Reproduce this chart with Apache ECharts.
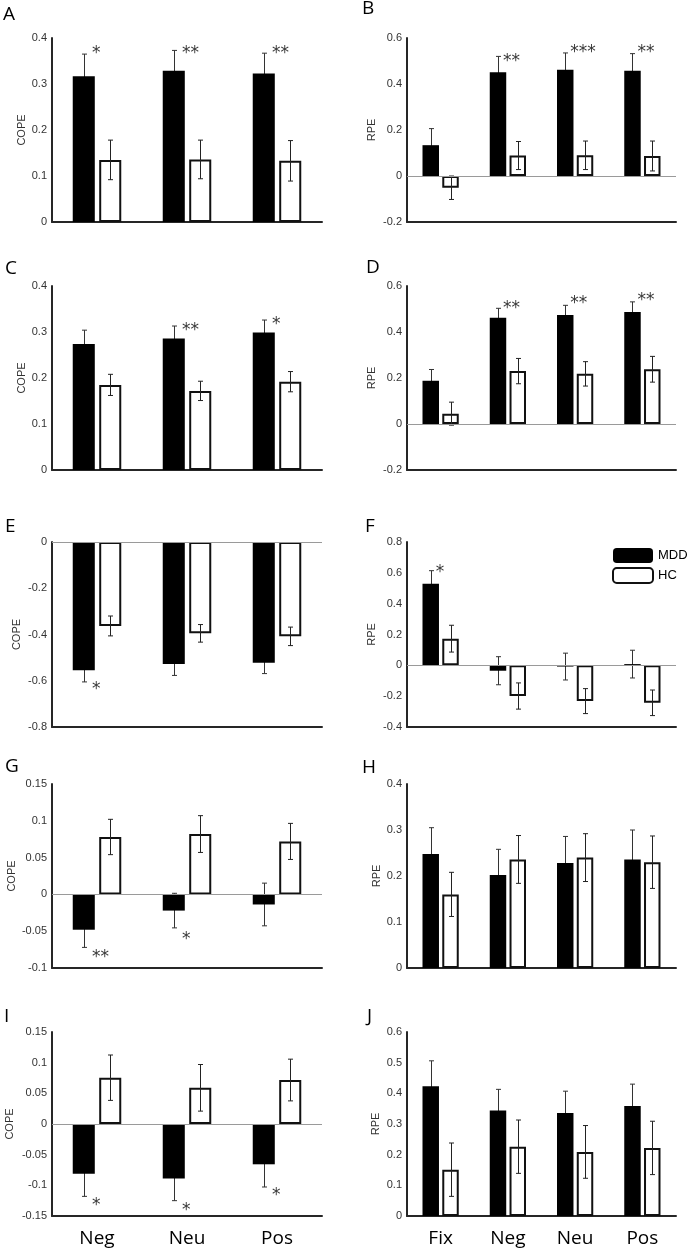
<!DOCTYPE html>
<html>
<head>
<meta charset="utf-8">
<script src="https://cdn.jsdelivr.net/npm/echarts@6/dist/echarts.min.js"></script>
<style>
html,body{margin:0;padding:0;background:#fff;}
#chart{width:688px;height:1250px;}
</style>
</head>
<body>
<div id="chart"></div>
<script>
// ---------- DATA ----------
const COPE_CATS = ['Neg', 'Neu', 'Pos'];
const RPE_CATS = ['Fix', 'Neg', 'Neu', 'Pos'];
const SERIES_NAMES = ['MDD', 'HC'];

// axis ranges [min, max, interval]
const A_axis = [0, 0.4, 0.1];
const B_axis = [-0.2, 0.6, 0.2];
const C_axis = [0, 0.4, 0.1];
const D_axis = [-0.2, 0.6, 0.2];
const E_axis = [-0.8, 0, 0.2];
const F_axis = [-0.4, 0.8, 0.2];
const G_axis = [-0.1, 0.15, 0.05];
const H_axis = [0, 0.4, 0.1];
const I_axis = [-0.15, 0.15, 0.05];
const J_axis = [0, 0.6, 0.1];

const A_mdd = [0.317, 0.329, 0.323];
const A_mddErr = [0.048, 0.044, 0.044];
const A_hc = [0.135, 0.136, 0.133];
const A_hcErr = [0.043, 0.042, 0.044];
const A_starText = ['*', '**', '**'];
const A_starY = [0.378, 0.378, 0.378];

const B_mdd = [0.134, 0.451, 0.462, 0.458];
const B_mddErr = [0.072, 0.069, 0.073, 0.074];
const B_hc = [-0.051, 0.089, 0.090, 0.087];
const B_hcErr = [0.051, 0.061, 0.062, 0.065];
const B_starText = ['', '**', '***', '**'];
const B_starY = [null, 0.52, 0.557, 0.557];

const C_mdd = [0.274, 0.286, 0.299];
const C_mddErr = [0.030, 0.027, 0.027];
const C_hc = [0.185, 0.172, 0.192];
const C_hcErr = [0.023, 0.021, 0.022];
const C_starText = ['', '**', '*'];
const C_starY = [null, 0.315, 0.328];

const D_mdd = [0.188, 0.462, 0.474, 0.487];
const D_mddErr = [0.049, 0.041, 0.042, 0.044];
const D_hc = [0.045, 0.230, 0.218, 0.238];
const D_hcErr = [0.050, 0.055, 0.053, 0.056];
const D_starText = ['', '**', '**', '**'];
const D_starY = [null, 0.525, 0.547, 0.558];

const E_mdd = [-0.555, -0.528, -0.522];
const E_mddErr = [0.050, 0.049, 0.047];
const E_hc = [-0.363, -0.395, -0.408];
const E_hcErr = [0.043, 0.038, 0.040];
const E_starText = ['*', '', ''];
const E_starY = [-0.617, null, null];

const F_mdd = [0.529, -0.035, -0.008, 0.008];
const F_mddErr = [0.085, 0.091, 0.087, 0.090];
const F_hc = [0.173, -0.199, -0.232, -0.243];
const F_hcErr = [0.087, 0.085, 0.081, 0.083];
const F_starText = ['*', '', '', ''];
const F_starY = [0.632, null, null, null];

const G_mdd = [-0.048, -0.022, -0.0137];
const G_mddErr = [0.024, 0.0235, 0.029];
const G_hc = [0.078, 0.082, 0.072];
const G_hcErr = [0.024, 0.025, 0.0245];
const G_starText = ['**', '*', ''];
const G_starY = [-0.079, -0.054, null];

const H_mdd = [0.248, 0.202, 0.228, 0.236];
const H_mddErr = [0.057, 0.056, 0.058, 0.064];
const H_hc = [0.160, 0.236, 0.240, 0.230];
const H_hcErr = [0.048, 0.052, 0.052, 0.057];
const H_starText = ['', '', '', ''];
const H_starY = [null, null, null, null];

const I_mdd = [-0.081, -0.089, -0.0657];
const I_mddErr = [0.037, 0.036, 0.037];
const I_hc = [0.0755, 0.059, 0.0717];
const I_hcErr = [0.037, 0.038, 0.034];
const I_starText = ['*', '*', '*'];
const I_starY = [-0.125, -0.133, -0.108];

const J_mdd = [0.423, 0.344, 0.336, 0.359];
const J_mddErr = [0.083, 0.069, 0.071, 0.071];
const J_hc = [0.151, 0.226, 0.209, 0.222];
const J_hcErr = [0.087, 0.087, 0.086, 0.087];
const J_starText = ['', '', '', ''];
const J_starY = [null, null, null, null];

const panels = [
  {id:'A', cats:COPE_CATS, yName:'COPE', axis:A_axis, mdd:A_mdd, mddErr:A_mddErr, hc:A_hc, hcErr:A_hcErr, starText:A_starText, starY:A_starY},
  {id:'B', cats:RPE_CATS, yName:'RPE', axis:B_axis, mdd:B_mdd, mddErr:B_mddErr, hc:B_hc, hcErr:B_hcErr, starText:B_starText, starY:B_starY},
  {id:'C', cats:COPE_CATS, yName:'COPE', axis:C_axis, mdd:C_mdd, mddErr:C_mddErr, hc:C_hc, hcErr:C_hcErr, starText:C_starText, starY:C_starY},
  {id:'D', cats:RPE_CATS, yName:'RPE', axis:D_axis, mdd:D_mdd, mddErr:D_mddErr, hc:D_hc, hcErr:D_hcErr, starText:D_starText, starY:D_starY},
  {id:'E', cats:COPE_CATS, yName:'COPE', axis:E_axis, mdd:E_mdd, mddErr:E_mddErr, hc:E_hc, hcErr:E_hcErr, starText:E_starText, starY:E_starY},
  {id:'F', cats:RPE_CATS, yName:'RPE', axis:F_axis, mdd:F_mdd, mddErr:F_mddErr, hc:F_hc, hcErr:F_hcErr, starText:F_starText, starY:F_starY},
  {id:'G', cats:COPE_CATS, yName:'COPE', axis:G_axis, mdd:G_mdd, mddErr:G_mddErr, hc:G_hc, hcErr:G_hcErr, starText:G_starText, starY:G_starY},
  {id:'H', cats:RPE_CATS, yName:'RPE', axis:H_axis, mdd:H_mdd, mddErr:H_mddErr, hc:H_hc, hcErr:H_hcErr, starText:H_starText, starY:H_starY},
  {id:'I', cats:COPE_CATS, yName:'COPE', axis:I_axis, mdd:I_mdd, mddErr:I_mddErr, hc:I_hc, hcErr:I_hcErr, starText:I_starText, starY:I_starY},
  {id:'J', cats:RPE_CATS, yName:'RPE', axis:J_axis, mdd:J_mdd, mddErr:J_mddErr, hc:J_hc, hcErr:J_hcErr, starText:J_starText, starY:J_starY}
];

// ---------- LAYOUT ----------
const COL_LEFT = [52, 407];
const COL_WIDTH = [270, 269];
const ROW_TOP = [38, 286, 542, 784, 1032];
const ROW_H = [184, 184, 185, 184, 184];
const NAME_GAP = {A:24, B:30, C:24, D:30, E:30, F:30, G:35, H:25, I:37, J:26};
const LETTER_POS = {A:[3,17], B:[362,11], C:[5,271], D:[366,270], E:[5,529], F:[365,529], G:[5,769], H:[362,770], I:[4,1019], J:[367,1019]};
const BAR_W = 0.245;
const BAR_GAP = 0.2;
const AXIS_COLOR = '#262626';
const TICK_FONT = 'Liberation Sans, Arial, sans-serif';
const STAR_FONT = 'DejaVu Sans, sans-serif';
const LABEL_FONT = 'Open Sans, Noto Sans, sans-serif';

const grid = [], xAxis = [], yAxis = [], series = [], graphic = [];

function errRender(side, color) {
  return function (params, api) {
    const x = api.value(0), m = api.value(1), e = api.value(2);
    const c = api.coord([x, m]);
    const hi = api.coord([x, m + e]);
    const lo = api.coord([x, m - e]);
    const band = api.size([1, 0])[0];
    const bw = band * BAR_W;
    const cx = Math.round(c[0] + side * (bw + bw * BAR_GAP) / 2) + 0.5;
    const cap = 2.5;
    const st = {stroke: color, lineWidth: 1};
    return {type: 'group', children: [
      {type: 'line', shape: {x1: cx, y1: hi[1], x2: cx, y2: lo[1]}, style: st},
      {type: 'line', shape: {x1: cx - cap, y1: hi[1], x2: cx + cap, y2: hi[1]}, style: st},
      {type: 'line', shape: {x1: cx - cap, y1: lo[1], x2: cx + cap, y2: lo[1]}, style: st}
    ]};
  };
}

panels.forEach(function (p, i) {
  const col = i % 2, row = Math.floor(i / 2);
  grid.push({left: COL_LEFT[col], top: ROW_TOP[row], width: COL_WIDTH[col], height: ROW_H[row], containLabel: false});
  const showCat = row === 4;
  xAxis.push({
    type: 'category', gridIndex: i, data: p.cats,
    axisLine: {onZero: false, lineStyle: {color: AXIS_COLOR, width: 2}},
    axisTick: {show: false},
    axisLabel: {show: showCat, fontFamily: LABEL_FONT, fontSize: 19, color: '#000', margin: 13}
  });
  yAxis.push({
    type: 'value', gridIndex: i, min: p.axis[0], max: p.axis[1], interval: p.axis[2],
    name: p.yName, nameLocation: 'middle', nameGap: NAME_GAP[p.id],
    nameTextStyle: {fontFamily: TICK_FONT, fontSize: 11, color: '#333'},
    axisLine: {show: true, lineStyle: {color: AXIS_COLOR, width: 2}},
    axisTick: {show: false},
    splitLine: {show: false},
    axisLabel: {fontFamily: TICK_FONT, fontSize: 11, color: '#333', margin: 5,
      formatter: function (v) { return String(+v.toFixed(2)); }}
  });
  // zero line
  if (p.axis[0] < 0) {
    series.push({
      type: 'line', xAxisIndex: i, yAxisIndex: i, data: [], z: 0, silent: true,
      markLine: {silent: true, symbol: ['none', 'none'], label: {show: false},
        lineStyle: {color: '#9a9a9a', width: 1, type: 'solid'}, data: [{yAxis: 0}]}
    });
  }
  // MDD error bars (behind black bars)
  series.push({
    type: 'custom', xAxisIndex: i, yAxisIndex: i, z: 1, silent: true,
    renderItem: errRender(-1, '#333'),
    encode: {x: 0, y: 1},
    data: p.mdd.map(function (v, k) { return [k, v, p.mddErr[k]]; })
  });
  series.push({
    name: 'MDD', type: 'bar', xAxisIndex: i, yAxisIndex: i, data: p.mdd,
    barWidth: (BAR_W * 100) + '%', barGap: (BAR_GAP * 100) + '%', z: 2,
    itemStyle: {color: '#000', borderColor: '#000', borderWidth: 0}
  });
  series.push({
    name: 'HC', type: 'bar', xAxisIndex: i, yAxisIndex: i, data: p.hc,
    barWidth: (BAR_W * 100) + '%', barGap: (BAR_GAP * 100) + '%', z: 2,
    itemStyle: {color: '#fff', borderColor: '#111', borderWidth: 2}
  });
  // HC error bars (over white bars)
  series.push({
    type: 'custom', xAxisIndex: i, yAxisIndex: i, z: 3, silent: true,
    renderItem: errRender(1, '#222'),
    encode: {x: 0, y: 1},
    data: p.hc.map(function (v, k) { return [k, v, p.hcErr[k]]; })
  });
  const stars = [];
  p.starText.forEach(function (t, k) {
    if (t && p.starY[k] !== null) stars.push({name: t, value: [k, p.starY[k]]});
  });
  if (stars.length) {
    series.push({
      type: 'scatter', xAxisIndex: i, yAxisIndex: i, z: 4, silent: true,
      symbolSize: 2, itemStyle: {color: 'rgba(0,0,0,0)'},
      label: {show: true, position: 'inside', align: 'left', verticalAlign: 'middle',
        offset: [-5, 5], formatter: function (q) { return q.name; },
        fontFamily: STAR_FONT, fontSize: 17, color: '#000'},
      data: stars
    });
  }
  graphic.push({
    type: 'text', left: LETTER_POS[p.id][0], top: LETTER_POS[p.id][1] - 12,
    style: {text: p.id, fontFamily: LABEL_FONT, fontSize: 19, fill: '#000'}
  });
});

const chart = echarts.init(document.getElementById('chart'), null, {renderer: 'canvas'});
chart.setOption({
  animation: false,
  backgroundColor: '#fff',
  grid: grid, xAxis: xAxis, yAxis: yAxis, series: series, graphic: graphic,
  legend: {
    data: SERIES_NAMES, orient: 'vertical', left: 612, top: 548, padding: 0,
    itemWidth: 40, itemHeight: 15, itemGap: 4, itemTextGap: 4, selectedMode: false,
    textStyle: {fontFamily: TICK_FONT, fontSize: 13, color: '#000'}
  }
});
</script>
</body>
</html>
